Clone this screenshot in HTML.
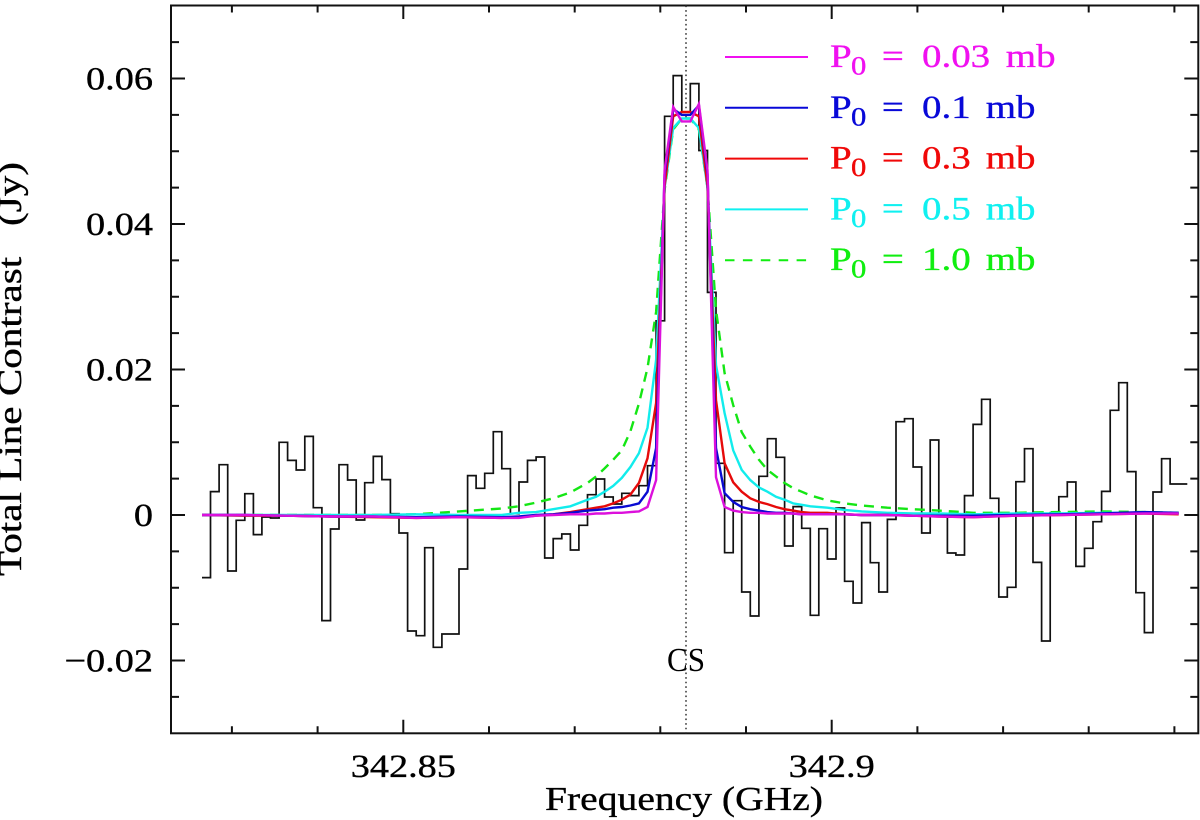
<!DOCTYPE html>
<html lang="en">
<head>
<meta charset="utf-8">
<title>Total Line Contrast vs Frequency</title>
<style>
html,body{margin:0;padding:0;background:#fff;}
svg{display:block;}
text{font-family:"Liberation Serif",serif;fill:#000;}
.heavy{stroke:#000;stroke-width:0.35px;}
</style>
</head>
<body>
<svg id="chart" xmlns="http://www.w3.org/2000/svg" width="1200" height="820" viewBox="0 0 1200 820">
  <rect x="171" y="5.5" width="1027.3" height="727.8" fill="none" stroke="#111" stroke-width="2"/>
  <g id="ticks"></g>
  <g id="tick-labels"></g>
  <g id="marks"></g>
  <g id="legend"></g>
  <text class="heavy" x="545" y="810" font-size="34" textLength="278" lengthAdjust="spacingAndGlyphs">Frequency (GHz)</text>
  <text class="heavy" transform="translate(21,576) rotate(-90)" font-size="34" textLength="414" lengthAdjust="spacingAndGlyphs">Total Line Contrast&#160;&#160;&#160;(Jy)</text>
</svg>
<script>
var firstChannelFreq = 342.8265;
var channelWidth = 0.001;
var lineFreq = 342.883;
var lineLabel = 'CS';

var xTickValues = [342.83,342.84,342.85,342.86,342.87,342.88,342.89,342.9,342.91,342.92,342.93,342.94];
var xMajorValues = [342.85,342.9];
var xMajorLabels = ['342.85','342.9'];
var yTickValues = [-0.025,-0.02,-0.015,-0.01,-0.005,0,0.005,0.01,0.015,0.02,0.025,0.03,0.035,0.04,0.045,0.05,0.055,0.06,0.065];
var yMajorValues = [-0.02,0,0.02,0.04,0.06];
var yMajorLabels = ['\u22120.02','0','0.02','0.04','0.06'];

var observed = [
-.00861,.00321,.00692,-.0077,-.00073,.00293,-.0027,-.00027,-.00041,.00999,
.00751,.00619,.01081,.00101,-.01452,-.00192,.00692,.00481,-.00069,.00444,
.00806,.00486,.00018,-.00247,-.01595,-.01659,-.00449,-.01819,-.01636,-.01636,
-.00742,.00541,.00367,.00573,.01145,.00637,.00018,.00454,.00751,.00797,
-.00591,-.00325,-.00261,-.00481,-.00142,.00279,.00495,.00247,.00151,.00298,
.00266,.00403,.00678,.0267,.0548,.0604,.0554,.0593,.0501,.0306,
.0071,-.00518,.00197,-.01058,-.01388,.00532,.01049,.00793,-.00426,.00115,
-.00183,-.01379,-.00188,-.00605,.00096,-.00912,-.0121,-.00105,-.00655,-.01058,
-.0006,.01283,.01324,.0066,-.00247,.01031,.00009,-.00522,-.0055,.00266,
.01246,.0159,.00229,-.01127,-.00994,.00458,.00912,-.00651,-.01732,.00032,
.00252,.00454,-.00706,-.00458,-.00092,.00325,.01439,.01819,.00596,-.01068,
-.01617,.00316,.00774,.00426,.00426];

var modelChannels = [0,5,10,15,20,25,30,35,37,39,41,43,45,46,47,48,49,50,51,52,53,54,55,56,57,58,59,60,61,62,63,64,65,66,67,68,69,70,71,73,75,77,80,83,86,90,95,100,105,110,114];

var modelP10 = [0,0,0,0,0,.0001,.0005,.0009,.0012,.0017,.0023,.0031,.0044,.0053,.0064,.0076,.0089,.0115,.0153,.0202,.0279,.0447,.053,.0545,.0545,.053,.045,.0282,.0195,.0151,.0114,.0094,.0076,.0062,.0053,.0044,.0037,.0032,.0027,.002,.0016,.0013,.001,.0008,.0006,.0003,.0003,.0004,.0005,.0004,.0003];
var modelP05 = [0,0,0,0,0,.0001,0,0,.0003,.0004,.0008,.0012,.0021,.0025,.0032,.004,.0051,.0066,.0085,.012,.0213,.045,.0532,.0545,.0545,.0532,.045,.0206,.014,.0089,.0062,.0048,.0038,.0032,.0025,.0021,.0016,.0014,.0012,.001,.0007,.0005,.0003,.0002,.0002,.0001,.0002,.0002,.0003,.0003,.0002];
var modelP03 = [0,-.0001,-.0001,-.0002,-.0003,-.0004,-.0003,-.0004,-.0003,-.0001,.0001,.0004,.0008,.001,.0012,.0016,.0021,.0028,.0044,.0078,.0154,.0452,.0548,.0554,.0554,.0548,.0452,.0158,.0071,.0045,.0032,.0023,.0018,.0015,.0011,.0008,.0006,.0004,.0003,.0003,.0001,0,0,-.0001,-.0002,-.0003,-.0001,0,.0001,.0002,.0001];
var modelP01 = [0,0,-.0001,-.0002,-.0002,-.0003,-.0002,-.0003,-.0002,0,.0001,.0003,.0006,.0007,.0008,.001,.0011,.0013,.0016,.0032,.0092,.0468,.0558,.055,.055,.0563,.0468,.0092,.003,.0018,.0011,.0008,.0006,.0004,.0003,.0003,.0002,.0001,.0001,.0001,.0001,0,0,-.0001,-.0001,-.0001,0,.0001,.0002,.0004,.0003];
var modelP003 = [0,0,-.0001,-.0002,-.0002,-.0004,-.0003,-.0004,-.0004,-.0001,0,.0001,.0001,.0002,.0002,.0003,.0003,.0004,.0005,.0011,.0048,.0474,.0561,.0541,.0541,.0565,.0474,.0052,.0011,.0006,.0004,.0003,.0003,.0002,.0002,.0002,.0002,.0001,.0001,.0001,.0001,0,0,-.0001,-.0002,-.0003,-.0001,0,.0001,.0002,.0002];

var legendValues = ['0.03','0.1','0.3','0.5','1.0'];

var NS = 'http://www.w3.org/2000/svg';
var plotLeft = 171, plotRight = 1198.3, plotTop = 5.5, plotBottom = 733.3;

function xScale(f) { return 403.3 + (f - 342.85) * 8568; }
function yScale(v) { return 515 - v * 7275; }

function make(tag, parent, attrs) {
  var el = document.createElementNS(NS, tag);
  for (var k in attrs) el.setAttribute(k, attrs[k]);
  parent.appendChild(el);
  return el;
}

var ticks = document.getElementById('ticks');
var tickLabels = document.getElementById('tick-labels');
var marks = document.getElementById('marks');
var legend = document.getElementById('legend');

function tickPath(x1, y1, x2, y2) {
  return 'M' + x1 + ' ' + y1 + 'L' + x2 + ' ' + y2;
}

var tickD = '';
xTickValues.forEach(function (f) {
  var x = xScale(f).toFixed(1);
  var len = xMajorValues.indexOf(f) >= 0 ? 13.5 : 7;
  tickD += tickPath(x, plotBottom, x, plotBottom - len);
  tickD += tickPath(x, plotTop, x, plotTop + len);
});
yTickValues.forEach(function (v) {
  var y = yScale(v).toFixed(1);
  var len = yMajorValues.indexOf(v) >= 0 ? 14 : 8;
  tickD += tickPath(plotLeft, y, plotLeft + len, y);
  tickD += tickPath(plotRight, y, plotRight - len, y);
});
var tickMarks = make('path', ticks, { d: tickD, fill: 'none', stroke: '#111', 'stroke-width': 2 });



xMajorValues.forEach(function (f, i) {
  var t = make('text', tickLabels, {
    'class': 'heavy',
    transform: 'translate(' + xScale(f).toFixed(1) + ',777) scale(1.16,1)',
    'text-anchor': 'middle', 'font-size': 33
  });
  
  
  t.textContent = xMajorLabels[i];
});
yMajorValues.forEach(function (v, i) {
  var t = make('text', tickLabels, {
    'class': 'heavy',
    transform: 'translate(153,' + (yScale(v) + 11).toFixed(1) + ') scale(1.16,1)',
    'text-anchor': 'end', 'font-size': 33
  });
  
  
  t.textContent = yMajorLabels[i];
});

var lineMarker = make('line', marks, {
  x1: xScale(lineFreq).toFixed(1), x2: xScale(lineFreq).toFixed(1), y1: plotTop, y2: plotBottom,
  stroke: '#333', 'stroke-width': 1.5, 'stroke-dasharray': '1.6 3'
});



var lineText = make('text', marks, {
  x: xScale(lineFreq) - 19, y: 671, 'font-size': 34, textLength: 38, lengthAdjust: 'spacingAndGlyphs'
});


lineText.textContent = lineLabel;

var stepD = '';
observed.forEach(function (v, i) {
  var x0 = xScale(firstChannelFreq + i * channelWidth).toFixed(1);
  var x1 = xScale(firstChannelFreq + (i + 1) * channelWidth).toFixed(1);
  var y = yScale(v).toFixed(1);
  stepD += (i === 0 ? 'M' : 'L') + x0 + ' ' + y + 'L' + x1 + ' ' + y;
});
var stepLine = make('path', marks, { d: stepD, fill: 'none', stroke: '#111', 'stroke-width': 1.7 });



function modelPath(values) {
  var d = '';
  values.forEach(function (v, i) {
    var f = firstChannelFreq + modelChannels[i] * channelWidth;
    d += (i === 0 ? 'M' : 'L') + xScale(f).toFixed(1) + ' ' + yScale(v).toFixed(1);
  });
  return d;
}

var curveGreen = make('path', marks, { d: modelPath(modelP10), fill: 'none', stroke: '#14e614', 'stroke-width': 2.4, 'stroke-dasharray': '10 7' });


var curveCyan = make('path', marks, { d: modelPath(modelP05), fill: 'none', stroke: '#12ecec', 'stroke-width': 2.4 });


var curveRed = make('path', marks, { d: modelPath(modelP03), fill: 'none', stroke: '#e60a0a', 'stroke-width': 2.4 });


var curveBlue = make('path', marks, { d: modelPath(modelP01), fill: 'none', stroke: '#0a0ad2', 'stroke-width': 2.4 });


var curveMagenta = make('path', marks, { d: modelPath(modelP003), fill: 'none', stroke: '#dc10dc', 'stroke-width': 2.4 });



var legendColors = ['#f010f0', '#0808d8', '#f00808', '#10f0f0', '#10ee10'];
legendValues.forEach(function (val, i) {
  var base = 67 + i * 50.8;
  var row = make('g', legend, {});
  
  
  var attrs = { x1: 725, x2: 808, y1: base - 10, y2: base - 10, stroke: legendColors[i], 'stroke-width': 2 };
  if (i === 4) attrs['stroke-dasharray'] = '9.5 8.4';
  var sw = make('line', row, attrs);
  
  
  var t = make('text', row, {
    transform: 'translate(830,' + base + ') scale(1.18,1)', 'font-size': 33,
    style: 'fill:' + legendColors[i] + ';stroke:' + legendColors[i] + ';stroke-width:0.35px'
  });
  
  
  var p = make('tspan', t, { x: 0 });
  p.textContent = 'P';
  var sub = make('tspan', t, { x: 17.8, dy: 7.5, 'font-size': 26 });
  sub.textContent = '0';
  var eq = make('tspan', t, { x: 44, dy: -7.5 });
  eq.textContent = '=';
  var num = make('tspan', t, { x: 78 });
  num.textContent = val;
  var unit = make('tspan', t, { x: val.length === 4 ? 149 : 132 });
  unit.textContent = 'mb';
});
</script>
</body>
</html>
